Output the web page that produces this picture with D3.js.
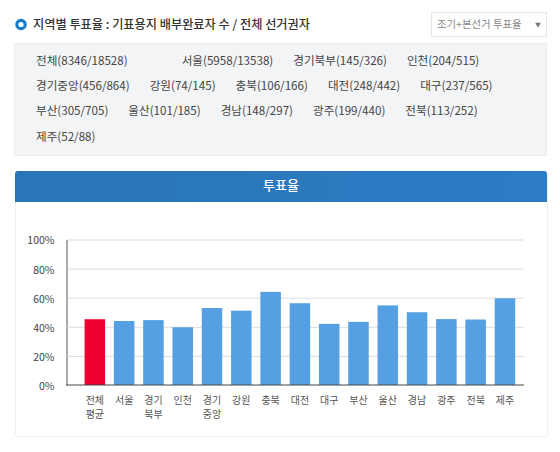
<!DOCTYPE html>
<html>
<head>
<meta charset="utf-8">
<script src="https://cdn.jsdelivr.net/npm/d3@7"></script>
<style>
body { margin: 0; background: #fff; }
text { font-family: "Noto Sans CJK KR", "Noto Sans", sans-serif; }
</style>
</head>
<body>
<svg id="chart" width="560" height="452"></svg>
<script>
var titleText = '지역별 투표율 : 기표용지 배부완료자 수 / 전체 선거권자';
var selectText = '조기+본선거 투표율';
var chartTitle = '투표율';

var countRows = [
  ['전체(8346/18528)', '서울(5958/13538)', '경기북부(145/326)', '인천(204/515)'],
  ['경기중앙(456/864)', '강원(74/145)', '충북(106/166)', '대전(248/442)', '대구(237/565)'],
  ['부산(305/705)', '울산(101/185)', '경남(148/297)', '광주(199/440)', '전북(113/252)'],
  ['제주(52/88)']
];

var regions = ['전체 평균', '서울', '경기 북부', '인천', '경기 중앙', '강원', '충북', '대전', '대구', '부산', '울산', '경남', '광주', '전북', '제주'];
var rates = [45.2, 44.0, 44.6, 39.7, 52.9, 51.1, 64.0, 56.2, 42.0, 43.4, 54.7, 50.0, 45.3, 45.0, 59.6];
var ticks = [0, 20, 40, 60, 80, 100];

var svg = d3.select('#chart');

// top title with ring marker
svg.append('circle')
    .attr('cx', 21).attr('cy', 24.5).attr('r', 4.2)
    .style('fill', '#fff').style('stroke', '#1a7cc9').style('stroke-width', 3.2);
svg.append('text')
    .attr('x', 33).attr('y', 29)
    .style('font-size', '12.2px').style('font-weight', 500).style('fill', '#333')
    .text(titleText);

// select box
svg.append('rect')
    .attr('x', 431.5).attr('y', 12.5).attr('width', 115).attr('height', 24)
    .style('fill', '#fff').style('stroke', '#e6e6e6');
svg.append('text')
    .attr('x', 437).attr('y', 28)
    .style('font-size', '10.4px').style('fill', '#888')
    .text(selectText);
svg.append('path')
    .attr('d', d3.symbol(d3.symbolTriangle, 14))
    .attr('transform', 'translate(538,24.5) rotate(180)')
    .style('fill', '#777');

// gray panel with the counts
svg.append('rect')
    .attr('x', 14.5).attr('y', 43.5).attr('width', 532).attr('height', 112)
    .style('fill', '#f3f4f6').style('stroke', '#eceded');

var rowY = d3.scaleLinear().domain([0, 3]).range([65, 140.5]);
countRows.forEach(function(row, i) {
    var x = 36;
    row.forEach(function(label, j) {
        var t = svg.append('text')
            .attr('x', x).attr('y', rowY(i))
            .style('font-size', '11.6px').style('fill', '#444')
            .text(label);
        // first row has a wider gap after 전체
        x += t.node().getComputedTextLength() + ((i == 0 && j == 0) ? 54 : 20);
    });
});

// chart card
svg.append('rect')
    .attr('x', 15.5).attr('y', 171.5).attr('width', 532).attr('height', 265).attr('rx', 3)
    .style('fill', '#fff').style('stroke', '#eeeeee');
var grad = svg.append('defs').append('linearGradient')
    .attr('id', 'head').attr('x1', 0).attr('x2', 1).attr('y1', 0).attr('y2', 0);
grad.append('stop').attr('offset', 0).attr('stop-color', '#2a74b8');
grad.append('stop').attr('offset', 1).attr('stop-color', '#2c7cc4');
svg.append('path')
    .attr('d', 'M15,202V174a3,3 0 0 1 3,-3H544a3,3 0 0 1 3,3V202Z')
    .style('fill', 'url(#head)');
svg.append('text')
    .attr('x', 281).attr('y', 190).attr('text-anchor', 'middle')
    .style('font-size', '13px').style('font-weight', 500).style('fill', '#fff')
    .text(chartTitle);

// bars
var x = d3.scaleBand().domain(regions).range([80.2, 519.6]).paddingInner(0.3).paddingOuter(0.15);
var y = d3.scaleLinear().domain([0, 100]).range([385, 239.5]);

var yAxis = svg.append('g')
    .attr('transform', 'translate(66.5,0)')
    .call(d3.axisLeft(y).tickValues(ticks).tickSize(0).tickPadding(12).tickFormat(function(d) { return d + '%'; }));
yAxis.select('.domain').style('stroke', '#555').style('stroke-width', 1);
yAxis.selectAll('text')
    .attr('dy', '0.42em')
    .style('font-size', '10.5px').style('fill', '#444').style('font-family', '"Noto Sans CJK KR", sans-serif');

svg.selectAll('.grid')
    .data(ticks.slice(1))
    .enter().append('line')
    .attr('class', 'grid')
    .attr('x1', 67).attr('x2', 524)
    .attr('y1', function(d) { return y(d) + 0.5; })
    .attr('y2', function(d) { return y(d) + 0.5; })
    .style('stroke', '#dcdcdc');

svg.selectAll('.bar')
    .data(rates)
    .enter().append('rect')
    .attr('class', 'bar')
    .attr('x', function(d, i) { return x(regions[i]); })
    .attr('y', function(d) { return y(d); })
    .attr('width', x.bandwidth())
    .attr('height', function(d) { return y(0) - y(d); })
    .style('fill', function(d, i) { return i == 0 ? '#ee0033' : '#559fe3'; });

svg.append('line')
    .attr('x1', 66).attr('x2', 524).attr('y1', 385).attr('y2', 385)
    .style('stroke', '#444').style('stroke-width', 1);

// two line region labels
svg.selectAll('.region')
    .data(regions)
    .enter().append('text')
    .attr('class', 'region')
    .attr('text-anchor', 'middle')
    .attr('transform', function(d) { return 'translate(' + (x(d) + x.bandwidth() / 2) + ',0)'; })
    .style('font-size', '10px').style('fill', '#555')
    .selectAll('tspan')
    .data(function(d) { return d.split(' '); })
    .enter().append('tspan')
    .attr('x', 0)
    .attr('y', function(d, i) { return 403.5 + i * 14.5; })
    .text(function(d) { return d; });
</script>
</body>
</html>
